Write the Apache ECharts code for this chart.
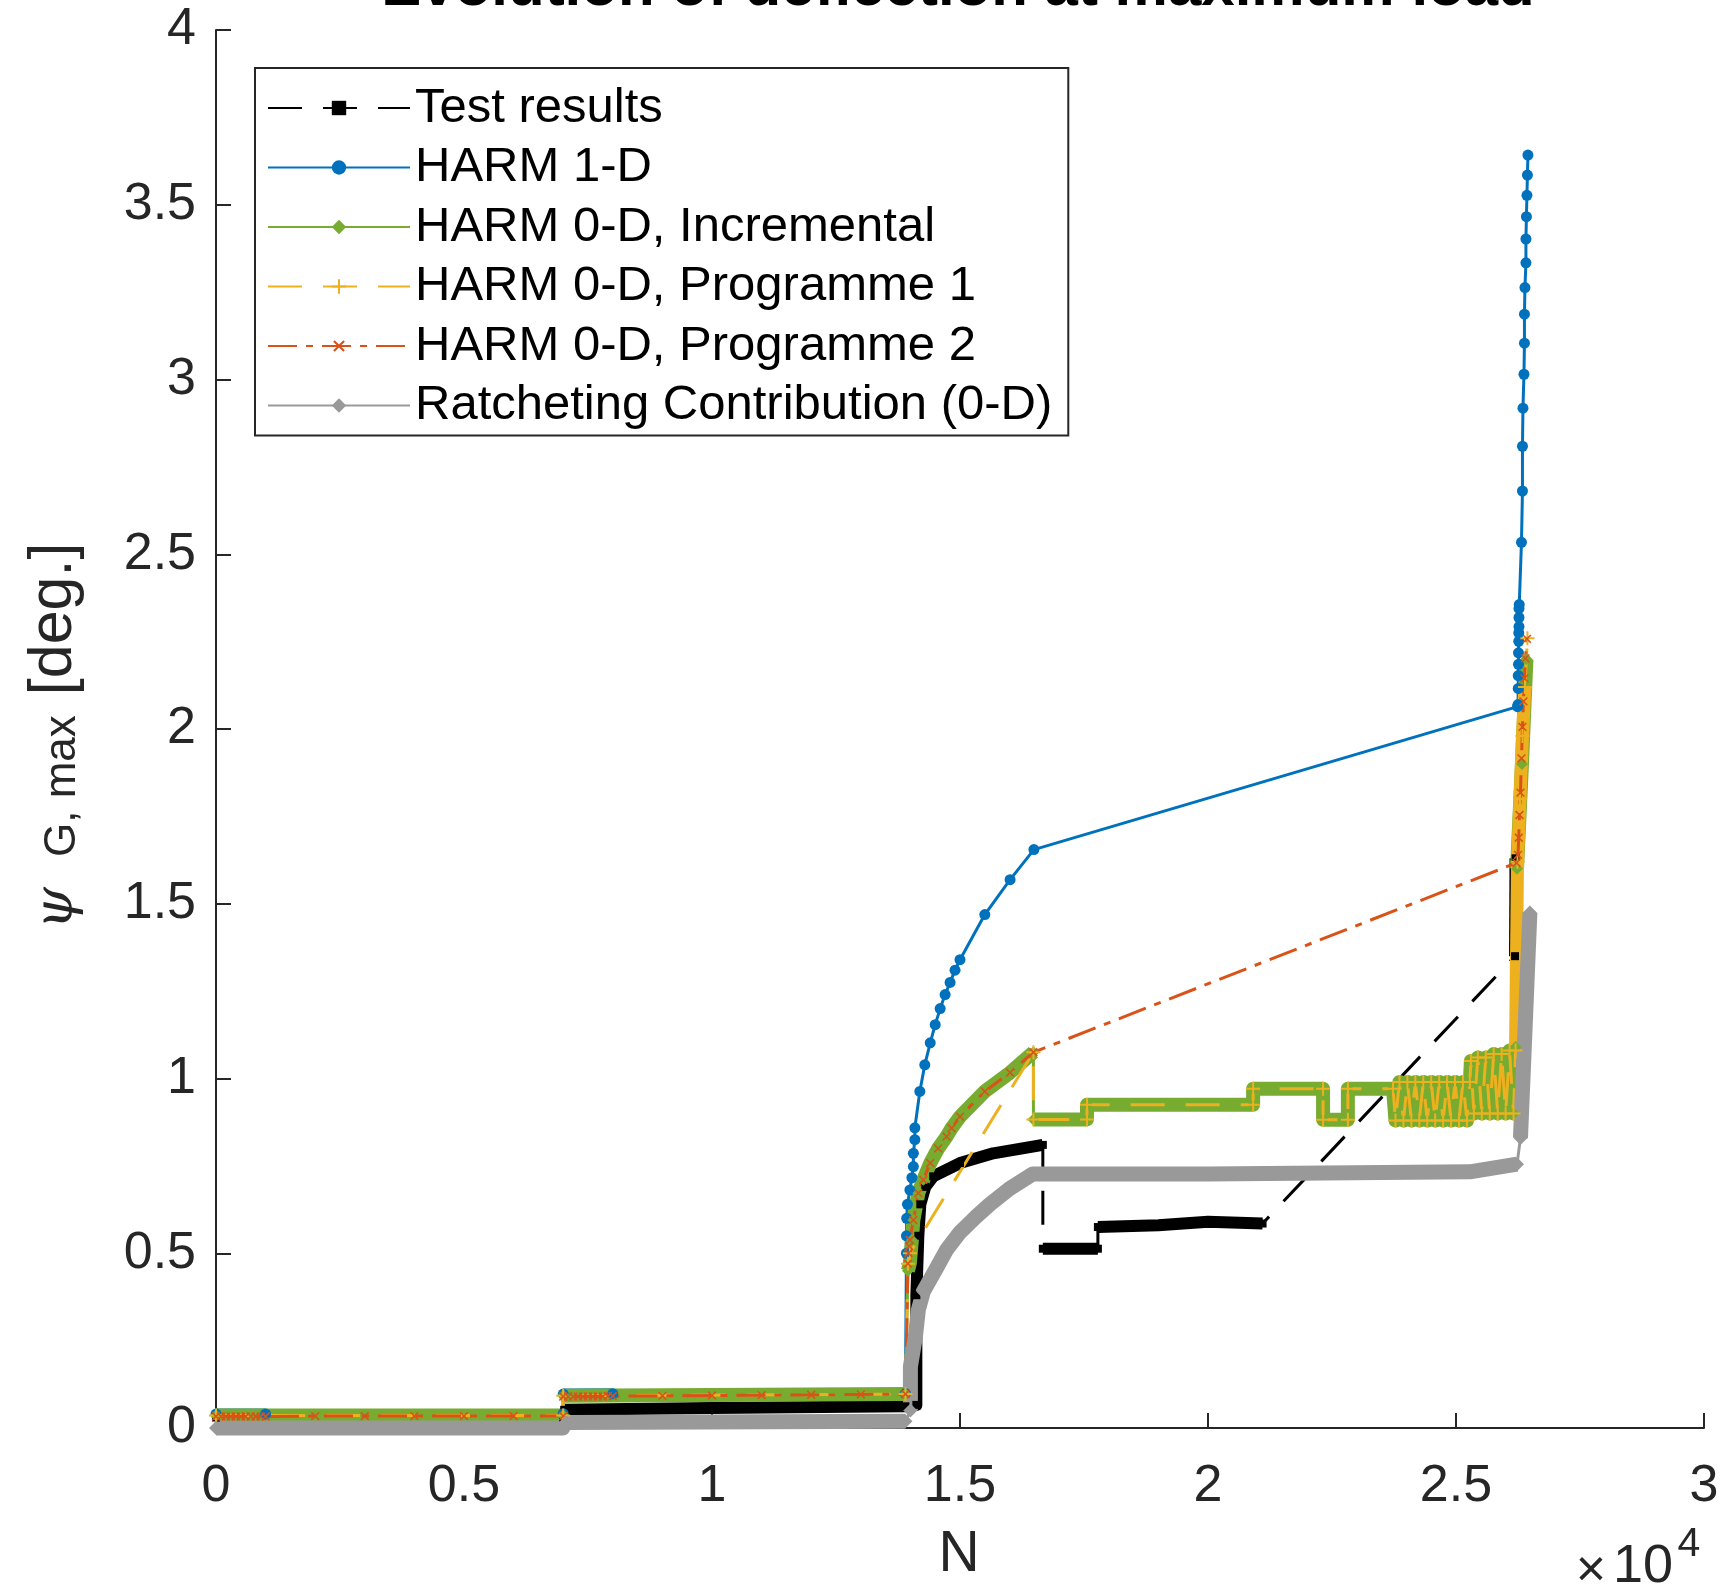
<!DOCTYPE html>
<html>
<head>
<meta charset="utf-8">
<script src="https://cdn.jsdelivr.net/npm/echarts/dist/echarts.min.js"></script>
<style>
  html, body { margin: 0; padding: 0; background: #ffffff; }
  #chart { width: 1724px; height: 1590px; }
</style>
</head>
<body>
<div id="chart"></div>
<script>
// ---- Deflection at maximum load: psi_G,max [deg.] against cycle count N ----

const xTickLabels = ['0', '0.5', '1', '1.5', '2', '2.5', '3'];
const yTickLabels = ['0', '0.5', '1', '1.5', '2', '2.5', '3', '3.5', '4'];

// Test results  [N, psi]
const testResults = [
  [0, 0.03], [7000, 0.03],
  [7020, 0.052], [10000, 0.057], [13900, 0.062], [14120, 0.066], [14120, 0.38],
  [14160, 0.55], [14200, 0.64], [14300, 0.69], [14460, 0.72], [15000, 0.758],
  [15670, 0.786], [16670, 0.81],
  [16670, 0.513], [17780, 0.513],
  [17780, 0.575], [19000, 0.58], [20000, 0.59], [21100, 0.585],
  [26190, 1.35], [26200, 1.63]
];
// index runs of densely sampled test points
const testDenseRuns = [[0, 1], [2, 13], [14, 15], [16, 19], [20, 21]];

// HARM 1-D
const harm1D = [
  [0, 0.04], [1000, 0.04], [7000, 0.041], [7000, 0.097], [8000, 0.098], [13900, 0.099],
  [13920, 0.5], [13920, 0.55], [13925, 0.6], [13940, 0.64], [13990, 0.681],
  [14030, 0.716], [14060, 0.748], [14060, 0.786], [14090, 0.825], [14090, 0.859],
  [14190, 0.963], [14290, 1.039], [14400, 1.102], [14500, 1.154], [14600, 1.2],
  [14700, 1.24], [14800, 1.275], [14900, 1.31], [15000, 1.34], [15500, 1.469],
  [16010, 1.569], [16490, 1.655],
  [26240, 2.064], [26250, 2.07], [26255, 2.116], [26255, 2.153], [26260, 2.185],
  [26260, 2.218], [26265, 2.251], [26265, 2.275], [26270, 2.293], [26270, 2.319],
  [26270, 2.345], [26275, 2.356], [26320, 2.534], [26340, 2.681], [26340, 2.809],
  [26350, 2.918], [26370, 3.015], [26380, 3.104], [26380, 3.187], [26390, 3.263],
  [26410, 3.334], [26410, 3.402], [26420, 3.466], [26430, 3.527], [26440, 3.585],
  [26450, 3.642]
];
const harm1DDenseRuns = [[0, 1], [3, 4]];

// HARM 0-D, Incremental
const harm0DIncremental = [
  [0, 0.036], [7000, 0.036], [7000, 0.092], [13900, 0.097],
  [13950, 0.45], [13990, 0.472], [14030, 0.538], [14060, 0.595], [14160, 0.672],
  [14260, 0.71], [14400, 0.758], [14560, 0.80], [14730, 0.834], [14830, 0.858],
  [15000, 0.891], [15500, 0.963], [16010, 1.017], [16480, 1.075],
  [16480, 0.883], [17560, 0.883], [17560, 0.925], [20910, 0.925], [20910, 0.971],
  [22320, 0.971], [22320, 0.882], [22820, 0.882], [22820, 0.971], [23730, 0.971],
  [23780, 0.88], [23860, 0.99], [23940, 0.88], [24020, 0.99], [24100, 0.88],
  [24180, 0.99], [24260, 0.88], [24340, 0.99], [24420, 0.88], [24500, 0.99],
  [24580, 0.88], [24660, 0.99], [24740, 0.88], [24820, 0.99], [24900, 0.88],
  [24980, 0.99], [25060, 0.88], [25140, 0.99], [25220, 0.88], [25280, 0.99],
  [25300, 1.05], [25360, 0.9], [25440, 1.06], [25520, 0.9], [25600, 1.06],
  [25680, 0.9], [25760, 1.07], [25840, 0.9], [25920, 1.07], [26000, 0.9],
  [26080, 1.08], [26160, 0.9], [26200, 1.09],
  [26230, 1.6], [26330, 1.9], [26420, 2.2]
];
const incDenseRuns = [[0, 1], [2, 3], [4, 17], [18, 60], [61, 63]];

// HARM 0-D, Programme 1
const harm0DProgramme1 = [
  [0, 0.036], [7000, 0.036], [7000, 0.092], [13900, 0.097],
  [13950, 0.47], [13990, 0.5], [16480, 1.075],
  [16480, 0.883], [17560, 0.883], [17560, 0.925], [20910, 0.925], [20910, 0.971],
  [22320, 0.971], [22320, 0.882], [22820, 0.882], [22820, 0.971], [23730, 0.971],
  [23780, 0.88], [23860, 0.99], [23940, 0.88], [24020, 0.99], [24100, 0.88],
  [24180, 0.99], [24260, 0.88], [24340, 0.99], [24420, 0.88], [24500, 0.99],
  [24580, 0.88], [24660, 0.99], [24740, 0.88], [24820, 0.99], [24900, 0.88],
  [24980, 0.99], [25060, 0.88], [25140, 0.99], [25220, 0.88], [25280, 0.99],
  [25300, 1.05], [25360, 0.9], [25440, 1.06], [25520, 0.9], [25600, 1.06],
  [25680, 0.9], [25760, 1.07], [25840, 0.9], [25920, 1.07], [26000, 0.9],
  [26080, 1.08], [26160, 0.9], [26200, 1.08],
  [26240, 1.62], [26290, 1.8], [26340, 1.98], [26390, 2.12], [26440, 2.26]
];
const prog1DenseRuns = [[49, 53]];

// HARM 0-D, Programme 2
const harm0DProgramme2 = [
  [0, 0.033], [100, 0.033], [200, 0.033], [300, 0.033], [400, 0.033], [500, 0.033],
  [600, 0.033], [700, 0.033], [800, 0.033], [900, 0.033], [1000, 0.033],
  [2000, 0.034], [3000, 0.034], [4000, 0.034], [5000, 0.034], [6000, 0.034], [7000, 0.034],
  [7000, 0.09], [7100, 0.09], [7200, 0.09], [7300, 0.09], [7400, 0.09], [7500, 0.09],
  [7600, 0.09], [7700, 0.09], [7800, 0.09], [7900, 0.091], [8000, 0.091],
  [9000, 0.092], [10000, 0.093], [11000, 0.094], [12000, 0.095], [13000, 0.096], [13900, 0.097],
  [13950, 0.47], [13960, 0.5], [13975, 0.52], [13990, 0.538], [14060, 0.595],
  [14160, 0.672], [14260, 0.71], [14400, 0.758], [14560, 0.80], [14730, 0.834],
  [14830, 0.858], [15000, 0.891], [15500, 0.963], [16010, 1.017], [16480, 1.075],
  [26220, 1.617], [26250, 1.64], [26265, 1.689], [26280, 1.754], [26300, 1.818],
  [26320, 1.916], [26340, 2.006], [26360, 2.079], [26380, 2.145], [26400, 2.202],
  [26430, 2.258]
];

// Ratcheting Contribution (0-D)
const ratchetingContribution = [
  [0, 0.0], [6990, 0.0], [7050, 0.016], [13900, 0.019], [14000, 0.05],
  [14000, 0.175], [14100, 0.26], [14160, 0.338], [14260, 0.39], [14540, 0.461],
  [14730, 0.51], [15000, 0.56], [15320, 0.604], [15600, 0.64], [16000, 0.685],
  [16470, 0.727], [20000, 0.727], [25280, 0.733], [26230, 0.755], [26300, 0.83],
  [26490, 1.475]
];
const ratchetDenseRuns = [[0, 3], [4, 18], [19, 20]];

const seriesNames = [
  'Test results',
  'HARM 1-D',
  'HARM 0-D, Incremental',
  'HARM 0-D, Programme 1',
  'HARM 0-D, Programme 2',
  'Ratcheting Contribution (0-D)'
];

// ---- styling ----
const FONT = '"Liberation Sans", Arial, Helvetica, sans-serif';
const INK = '#262626';
const C_TEST = '#000000', C_H1D = '#0072BD', C_INC = '#77AC30',
      C_P1 = '#EDB120', C_P2 = '#D95319', C_RAT = '#999999';
const PLUS = 'path://M-1,-7H1V-1H7V1H1V7H-1V1H-7V-1H-1Z';
const DASH = [34, 21];
const DASH_DOT = [29, 9, 7, 9];

function markedLine(name, data, color, dash, symbol, size, rotate) {
  return {
    type: 'line', name, data,
    symbol, symbolSize: size, symbolRotate: rotate || 0, showAllSymbol: true,
    lineStyle: { color, width: 3, type: dash },
    itemStyle: { color, borderWidth: 0 },
    clip: false, silent: true, animation: false,
    emphasis: { disabled: true }
  };
}

// heavy strokes where markers sit shoulder to shoulder
function denseBands(key, data, runs, color, width) {
  return runs.map(([a, b], i) => ({
    type: 'line', name: key + '-dense-' + i,
    data: data.slice(a, b + 1),
    symbol: 'none',
    lineStyle: { color, width, type: 'solid', join: 'round', cap: 'butt' },
    clip: false, silent: true, animation: false,
    emphasis: { disabled: true }
  }));
}

const series = [].concat(
  denseBands('test', testResults, testDenseRuns, C_TEST, 12),
  [markedLine(seriesNames[0], testResults, C_TEST, DASH, 'rect', 8)],
  denseBands('h1d', harm1D, harm1DDenseRuns, C_H1D, 11),
  [markedLine(seriesNames[1], harm1D, C_H1D, 'solid', 'circle', 11)],
  denseBands('inc', harm0DIncremental, incDenseRuns, C_INC, 14),
  [markedLine(seriesNames[2], harm0DIncremental, C_INC, 'solid', 'diamond', 12)],
  denseBands('p1', harm0DProgramme1, prog1DenseRuns, C_P1, 13),
  [markedLine(seriesNames[3], harm0DProgramme1, C_P1, DASH, PLUS, 14)],
  [markedLine(seriesNames[4], harm0DProgramme2, C_P2, DASH_DOT, PLUS, 11, 45)],
  denseBands('rat', ratchetingContribution, ratchetDenseRuns, C_RAT, 15),
  [markedLine(seriesNames[5], ratchetingContribution, C_RAT, 'solid', 'diamond', 14)]
);

const chart = echarts.init(document.getElementById('chart'), null, { renderer: 'canvas' });

chart.setOption({
  backgroundColor: '#ffffff',
  animation: false,
  textStyle: { fontFamily: FONT },
  grid: { left: 216, right: 20, top: 30, bottom: 162, containLabel: false },
  xAxis: {
    type: 'value', min: 0, max: 30000, interval: 5000,
    axisLine: { show: true, lineStyle: { color: INK, width: 2 } },
    axisTick: { show: true, inside: true, length: 15, lineStyle: { color: INK, width: 2 } },
    axisLabel: {
      color: INK, fontSize: 52, fontFamily: FONT, margin: 33,
      formatter: v => xTickLabels[Math.round(v / 5000)]
    },
    splitLine: { show: false }
  },
  yAxis: {
    type: 'value', min: 0, max: 4, interval: 0.5,
    axisLine: { show: true, lineStyle: { color: INK, width: 2 } },
    axisTick: { show: true, inside: true, length: 15, lineStyle: { color: INK, width: 2 } },
    axisLabel: {
      color: INK, fontSize: 52, fontFamily: FONT, margin: 20,
      formatter: v => yTickLabels[Math.round(v / 0.5)]
    },
    splitLine: { show: false }
  },
  legend: {
    data: seriesNames,
    orient: 'vertical',
    left: 255, top: 68,
    padding: [15, 16, 5, 12],
    itemWidth: 142, itemHeight: 18, itemGap: 9.5,
    backgroundColor: '#ffffff',
    borderColor: INK, borderWidth: 2, borderRadius: 0,
    selectedMode: false,
    textStyle: { color: '#000000', fontSize: 49, fontFamily: FONT, lineHeight: 50 }
  },
  graphic: [
    {
      type: 'text', x: 958, y: -12,
      style: {
        text: 'Evolution of deflection at maximum load',
        fontSize: 60, fontWeight: 'bold', fontFamily: FONT,
        fill: '#000000', align: 'center', verticalAlign: 'middle'
      }
    },
    {
      type: 'text', x: 50, y: 736, rotation: Math.PI / 2,
      style: {
        text: '{p|ψ}{g|\u2003}{s|G, max}{h|\u2002}{m|[deg.]}',
        align: 'center', verticalAlign: 'middle', fill: INK,
        rich: {
          p: { fontSize: 54, fontStyle: 'italic', fontFamily: '"DejaVu Serif", "Liberation Serif", serif', fill: INK, verticalAlign: 'bottom', lineHeight: 70 },
          g: { fontSize: 30, fontFamily: FONT, fill: INK, verticalAlign: 'bottom', lineHeight: 70 },
          h: { fontSize: 40, fontFamily: FONT, fill: INK, verticalAlign: 'bottom', lineHeight: 70 },
          s: { fontSize: 44, fontFamily: FONT, fill: INK, verticalAlign: 'bottom', lineHeight: 70 },
          m: { fontSize: 61, fontFamily: FONT, fill: INK, verticalAlign: 'bottom', lineHeight: 70 }
        }
      }
    },
    {
      type: 'text', x: 959, y: 1555,
      style: { text: 'N', fontSize: 57, fontFamily: FONT, fill: INK, align: 'center', verticalAlign: 'middle' }
    },
    {
      type: 'text', x: 1591, y: 1572,
      style: { text: '×', fontSize: 52, fontFamily: FONT, fill: INK, align: 'center', verticalAlign: 'middle' }
    },
    {
      type: 'text', x: 1643, y: 1567,
      style: { text: '10', fontSize: 54, fontFamily: FONT, fill: INK, align: 'center', verticalAlign: 'middle' }
    },
    {
      type: 'text', x: 1689, y: 1545,
      style: { text: '4', fontSize: 41, fontFamily: FONT, fill: INK, align: 'center', verticalAlign: 'middle' }
    }
  ],
  series
});
</script>
</body>
</html>
